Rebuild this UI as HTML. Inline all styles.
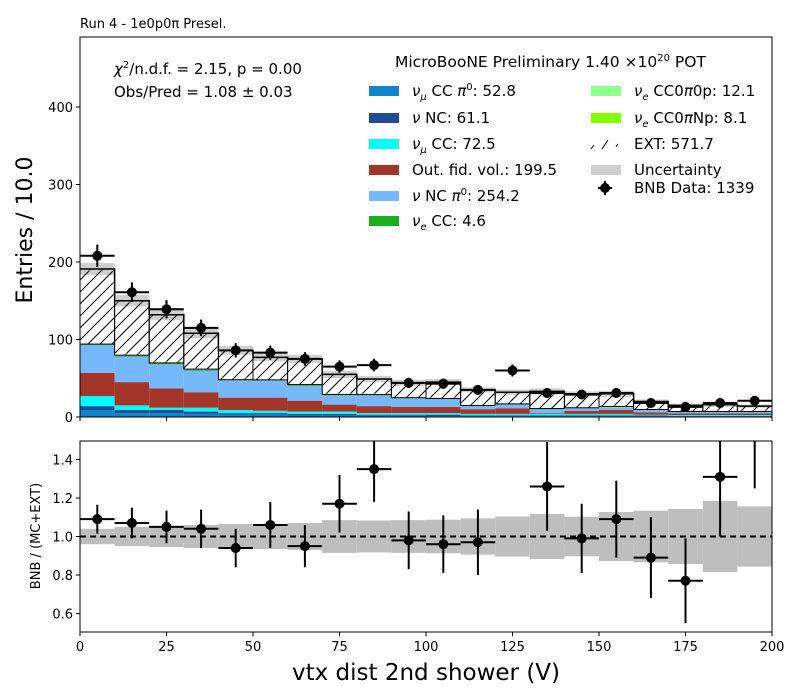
<!DOCTYPE html>
<html><head><meta charset="utf-8"><style>
body{margin:0;background:#fff;}
svg{display:block;font-family:"DejaVu Sans","Liberation Sans",sans-serif;}
</style></head><body>
<svg id="c" width="800" height="700" viewBox="0 0 800 700">
<defs>
<pattern id="hatch" patternUnits="userSpaceOnUse" width="12" height="12">
<path d="M-3,15 L15,-3 M-3,3 L3,-3 M9,15 L15,9" stroke="#000" stroke-width="1" fill="none"/>
</pattern>
</defs>
</svg>
<script>
const binEdges=[0,10,20,30,40,50,60,70,80,90,100,110,120,130,140,150,160,170,180,190,200];
const numuCCpi0=[9,5,5,4,3,3,2,2,2,2,1,1,1,1,1,1,1,1,1,1];
const nuNC=[5,4,4,3,2,2,2,2,1,1,2,1,1,1,1,1,1,0.5,0.5,0.5];
const numuCC=[13,6,3,5,4,3,3,3,2,2,2,2,2,2,2,2,1,1,1,1];
const oofv=[30,30,25,20,16,17,14,9,9,8,8,6,7,1,4,5,3,2,2,2];
const ncpi0=[36,33,31,28,22,22,19,12,14,11,10,4,5,5,3,3,3,2,2,2];
const nueCC=[0.5,1,1,1,0.5,0.3,1,0.5,0.3,0.3,0.3,0.3,0.3,0.3,0.3,0.3,0.2,0.2,0.2,0.2];
const nue0p=[0.3,0.3,0.3,0.3,0.3,0.3,0.3,0.3,0.3,0.3,0.3,0.3,0.3,0.3,0.3,1,0.3,0.2,0.2,0.2];
const nueNp=[0.3,0.5,0.5,0.5,0.3,0.3,0.5,0.3,0.3,0.3,0.3,0.3,0.3,0.3,0.3,0.3,0.2,0.2,0.2,0.2];
const totals=[191,150,132,108,86,77,75,55,49,44,45,35,32,33,30,30,20,15,16,14];
const dataVals=[208,161,139,115,86,83,75,65,67,44,43,35,60,31,29,31,18,13,18,21];
const ratioVals=[1.09,1.07,1.05,1.04,0.94,1.06,0.95,1.17,1.35,0.98,0.96,0.97,null,1.26,0.99,1.09,0.89,0.77,1.31,1.55];
const ratioErr=[0.075,0.08,0.085,0.1,0.1,0.12,0.11,0.15,0.17,0.15,0.15,0.17,0,0.23,0.18,0.2,0.21,0.22,0.31,0.3];
const uncRel=[0.04,0.05,0.055,0.06,0.065,0.065,0.07,0.085,0.083,0.085,0.087,0.094,0.104,0.117,0.103,0.127,0.134,0.143,0.185,0.156];
const mainTicks=[0,100,200,300,400];
const ratioTicks=[0.6,0.8,1.0,1.2,1.4];
const xTicks=[0,25,50,75,100,125,150,175,200];
const colors=["#0e83cf","#1f4a96","#00ffff","#a33628","#75b8fb","#1baf1b","#90ff90","#84ff00"];
const stacks=[numuCCpi0,nuNC,numuCC,oofv,ncpi0,nueCC,nue0p,nueNp];

const NS="http://www.w3.org/2000/svg";
const svg=document.getElementById('c');
function mk(tag,attrs,parent){const e=document.createElementNS(NS,tag);for(const k in attrs)e.setAttribute(k,attrs[k]);(parent||svg).appendChild(e);return e;}
const L=80,R=772,MT=37,MB=417,RT=441,RB=632;
const xs=v=>L+(v-0)/(200-0)*(R-L);
const ys=v=>MB-v*0.775;
const yr=v=>536.5-(v-1)*192.5;

const defs=svg.querySelector('defs');
const cm=mk('clipPath',{id:'cm'},defs);mk('rect',{x:L,y:MT,width:R-L,height:MB-MT},cm);
const cr=mk('clipPath',{id:'cr'},defs);mk('rect',{x:L,y:RT,width:R-L,height:RB-RT},cr);

const gm=mk('g',{'clip-path':'url(#cm)'});


for(let i=0;i<20;i++){
  const x0=xs(binEdges[i]),x1=xs(binEdges[i+1]);
  const u=mk('rect',{x:x0,y:ys(totals[i]*(1+uncRel[i])),width:x1-x0,height:ys(totals[i]*(1-uncRel[i]))-ys(totals[i]*(1+uncRel[i])),fill:'#cfcfcf'},gm);
  
  
  let cum=0;
  for(let s=0;s<stacks.length;s++){
    const v=stacks[s][i];
    const r=mk('rect',{x:x0,y:ys(cum+v),width:x1-x0,height:ys(cum)-ys(cum+v),fill:colors[s]},gm);
    
    
    cum+=v;
  }
  const e=mk('rect',{x:x0,y:ys(totals[i]),width:x1-x0,height:ys(cum)-ys(totals[i]),fill:'url(#hatch)',stroke:'#000','stroke-width':1},gm);
  
  
}
let d='';
for(let i=0;i<20;i++){d+=(i?'L':'M')+xs(binEdges[i])+','+ys(totals[i])+'L'+xs(binEdges[i+1])+','+ys(totals[i]);}
const tl=mk('path',{d:d,stroke:'#000','stroke-width':1.5,fill:'none'},gm);


for(let i=0;i<20;i++){
  const cx=(xs(binEdges[i])+xs(binEdges[i+1]))/2,v=dataVals[i],er=Math.sqrt(v);
  const g=mk('g',{},gm);
  
  
  mk('line',{x1:xs(binEdges[i]),x2:xs(binEdges[i+1]),y1:ys(v),y2:ys(v),stroke:'#000','stroke-width':2},g);
  mk('line',{x1:cx,x2:cx,y1:ys(v+er),y2:ys(v-er),stroke:'#000','stroke-width':2},g);
  mk('circle',{cx:cx,cy:ys(v),r:5,fill:'#000'},g);
}
const gr=mk('g',{'clip-path':'url(#cr)'});


for(let i=0;i<20;i++){
  const x0=xs(binEdges[i]),x1=xs(binEdges[i+1]);
  const b=mk('rect',{x:x0,y:yr(1+uncRel[i]),width:x1-x0,height:yr(1-uncRel[i])-yr(1+uncRel[i]),fill:'#bebebe'},gr);
  
  
}
const dl=mk('line',{x1:L,x2:R,y1:yr(1),y2:yr(1),stroke:'#000','stroke-width':2,'stroke-dasharray':'6,4'},gr);


for(let i=0;i<ratioVals.length;i++){
  if(ratioVals[i]===null) continue;
  const cx=(xs(binEdges[i])+xs(binEdges[i+1]))/2,v=ratioVals[i],er=ratioErr[i];
  const g=mk('g',{},gr);
  
  
  mk('line',{x1:xs(binEdges[i]),x2:xs(binEdges[i+1]),y1:yr(v),y2:yr(v),stroke:'#000','stroke-width':2},g);
  mk('line',{x1:cx,x2:cx,y1:yr(v+er),y2:yr(v-er),stroke:'#000','stroke-width':2},g);
  mk('circle',{cx:cx,cy:yr(v),r:5,fill:'#000'},g);
}
const f1=mk('rect',{x:L,y:MT,width:R-L,height:MB-MT,fill:'none',stroke:'#000','stroke-width':1});

const f2=mk('rect',{x:L,y:RT,width:R-L,height:RB-RT,fill:'none',stroke:'#000','stroke-width':1});

function txt(x,y,s,size,anchor,name){const t=mk('text',{x:x,y:y,'font-size':size,'text-anchor':anchor||'start'});t.textContent=s;return t;}
mainTicks.forEach(v=>{mk('line',{x1:L-4,x2:L,y1:ys(v),y2:ys(v),stroke:'#000'});txt(L-7,ys(v)+5,String(v),13,'end','y-tick-label');});
ratioTicks.forEach(v=>{mk('line',{x1:L-4,x2:L,y1:yr(v),y2:yr(v),stroke:'#000'});txt(L-7,yr(v)+5,v.toFixed(1),13,'end','ratio-y-tick-label');});
xTicks.forEach(v=>{mk('line',{x1:xs(v),x2:xs(v),y1:MB,y2:MB+4,stroke:'#000'});mk('line',{x1:xs(v),x2:xs(v),y1:RB,y2:RB+4,stroke:'#000'});txt(xs(v),RB+19,String(v),13,'middle','x-tick-label');});
txt(80,28,'Run 4 - 1e0p0\u03c0 Presel.',13,'start','plot-title');
const yl=txt(0,0,'Entries / 10.0',22,'middle','y-axis-title');yl.setAttribute('transform','translate(32,230) rotate(-90)');
const yl2=txt(0,0,'BNB / (MC+EXT)',13,'middle','ratio-y-axis-title');yl2.setAttribute('transform','translate(40,536) rotate(-90)');
txt(426,680,'vtx dist 2nd shower (V)',23,'middle','x-axis-title');
const c1=mk('text',{x:114,y:74,'font-size':15});c1.innerHTML='<tspan font-style="italic">\u03c7</tspan><tspan dy="-6" font-size="10">2</tspan><tspan dy="6">/n.d.f. = 2.15, p = 0.00</tspan>';

txt(114,97,'Obs/Pred = 1.08 \u00b1 0.03',15,'start','obs-pred-text');
const h=mk('text',{x:395,y:67,'font-size':15.5});h.innerHTML='MicroBooNE Preliminary 1.40 \u00d710<tspan dy="-6" font-size="10">20</tspan><tspan dy="6"> POT</tspan>';

const leftItems=[['<tspan font-style="italic">\u03bd</tspan><tspan dy="4" font-size="10" font-style="italic">\u03bc</tspan><tspan dy="-4"> CC </tspan><tspan font-style="italic">\u03c0</tspan><tspan dy="-6" font-size="10">0</tspan><tspan dy="6">: 52.8</tspan>',colors[0]],
['<tspan font-style="italic">\u03bd</tspan> NC: 61.1',colors[1]],['<tspan font-style="italic">\u03bd</tspan><tspan dy="4" font-size="10" font-style="italic">\u03bc</tspan><tspan dy="-4"> CC: 72.5</tspan>',colors[2]],
['Out. fid. vol.: 199.5',colors[3]],['<tspan font-style="italic">\u03bd</tspan> NC <tspan font-style="italic">\u03c0</tspan><tspan dy="-6" font-size="10">0</tspan><tspan dy="6">: 254.2</tspan>',colors[4]],
['<tspan font-style="italic">\u03bd</tspan><tspan dy="4" font-size="10" font-style="italic">e</tspan><tspan dy="-4"> CC: 4.6</tspan>',colors[5]]];
const lys=[91,118,144,170,196,221];
leftItems.forEach((it,k)=>{const g=mk('g',{});
 mk('rect',{x:369,y:lys[k]-5,width:30,height:10,fill:it[1]},g);const t=mk('text',{x:412,y:lys[k]+5,'font-size':15},g);t.innerHTML=it[0];});
const rightItems=[['<tspan font-style="italic">\u03bd</tspan><tspan dy="4" font-size="10" font-style="italic">e</tspan><tspan dy="-4"> CC0</tspan><tspan font-style="italic">\u03c0</tspan>0p: 12.1',colors[6]],['<tspan font-style="italic">\u03bd</tspan><tspan dy="4" font-size="10" font-style="italic">e</tspan><tspan dy="-4"> CC0</tspan><tspan font-style="italic">\u03c0</tspan>Np: 8.1',colors[7]],['EXT: 571.7','ext'],['Uncertainty','#d0d0d0'],['BNB Data: 1339','data']];
const rys=[91,118,144,170,188];
rightItems.forEach((it,k)=>{const g=mk('g',{});
 const y=rys[k];
 if(it[1]==='ext'){mk('path',{d:`M591,${y+5}L594,${y+1}M602,${y+5}L608,${y-4}M616,${y+3}L618,${y}`,stroke:'#000','stroke-width':1},g);}
 else if(it[1]==='data'){mk('line',{x1:598,x2:612,y1:y,y2:y,stroke:'#000','stroke-width':2},g);mk('line',{x1:605,x2:605,y1:y-7,y2:y+7,stroke:'#000','stroke-width':2},g);mk('circle',{cx:605,cy:y,r:5,fill:'#000'},g);}
 else mk('rect',{x:591,y:y-5,width:30,height:10,fill:it[1]},g);
 const t=mk('text',{x:634,y:y+5,'font-size':15},g);t.innerHTML=it[0];});
</script>
</body></html>
